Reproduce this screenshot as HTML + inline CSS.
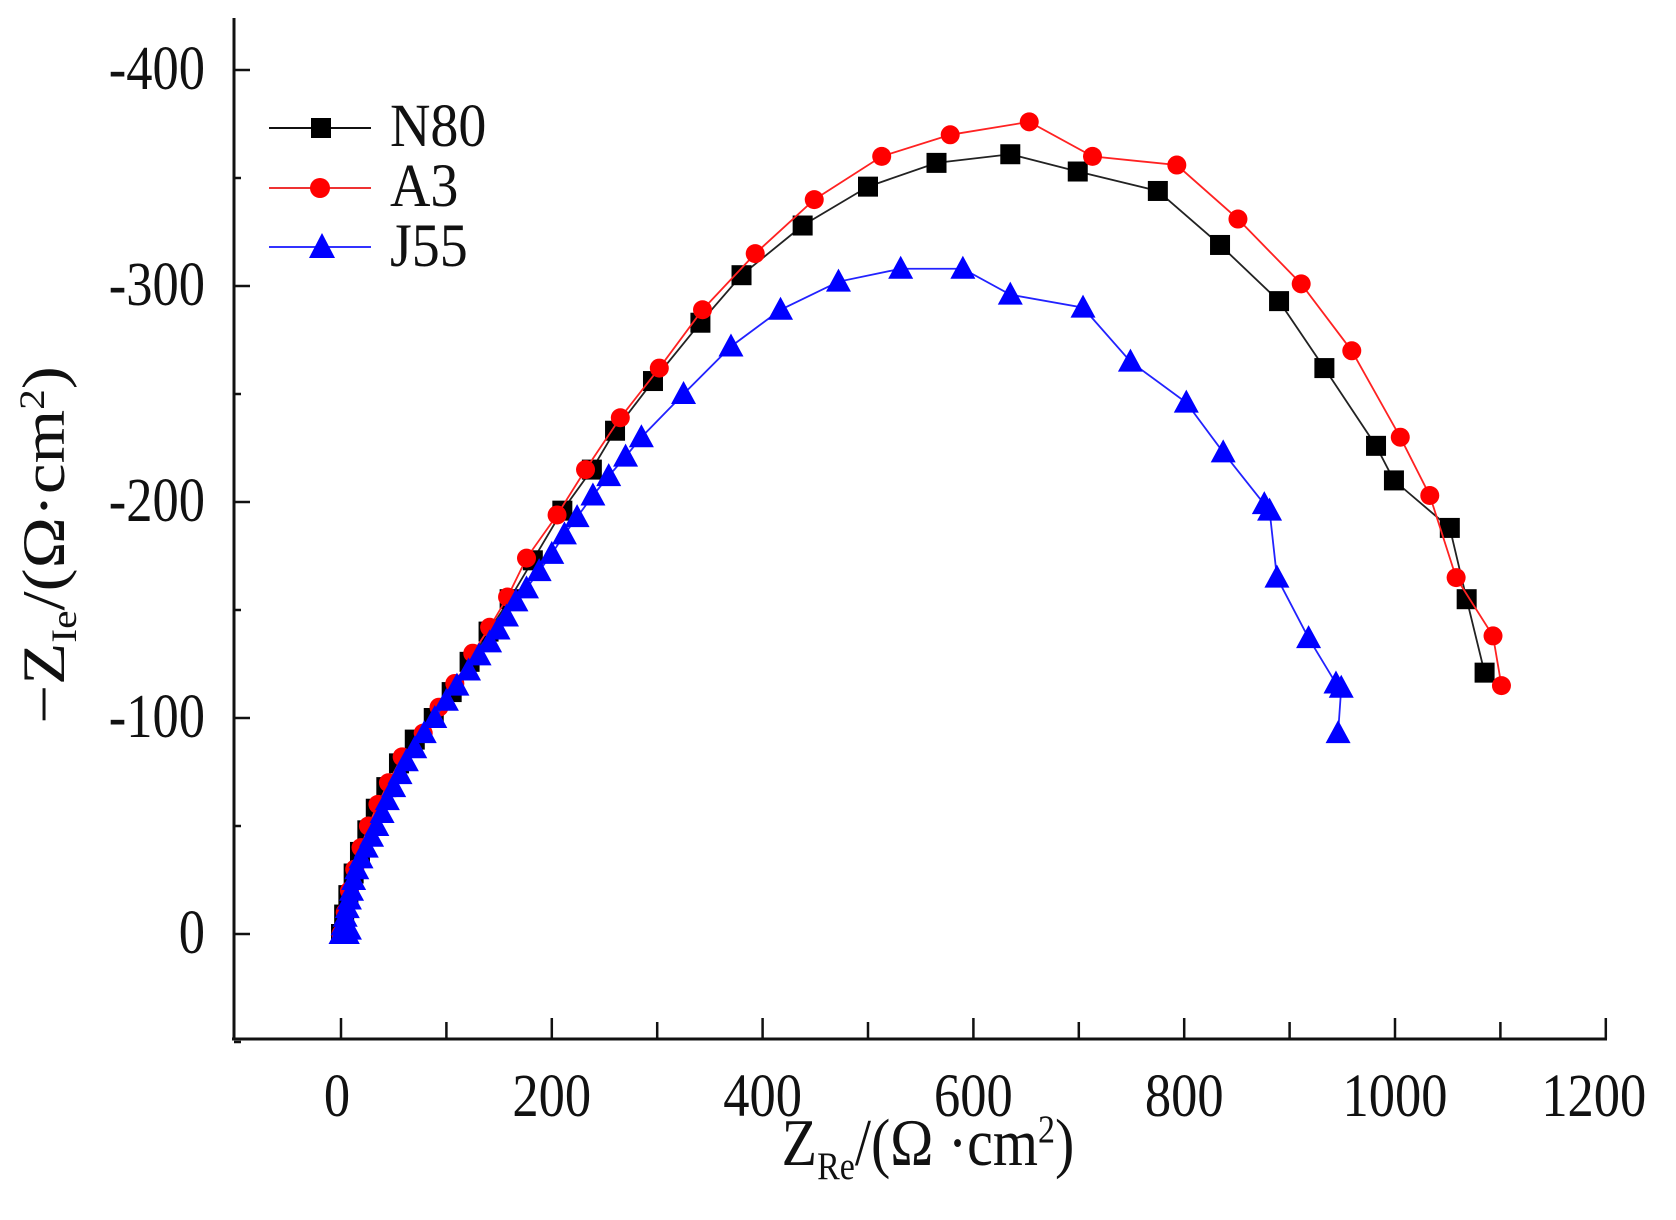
<!DOCTYPE html>
<html><head><meta charset="utf-8"><style>
html,body{margin:0;padding:0;background:#fff;}
svg{display:block;}
text{font-family:"Liberation Serif",serif;fill:#111;}
</style></head><body>
<svg id="s" width="1676" height="1220" viewBox="0 0 1676 1220" xmlns="http://www.w3.org/2000/svg">
<g stroke="#111" stroke-width="3" fill="none">
<line x1="234" y1="18" x2="234" y2="1040"/>
<line x1="232" y1="1039" x2="1607" y2="1039"/>
</g>
<g id="ticks" stroke="#111" stroke-width="2.5"></g>
<g id="labels" font-size="50"></g>
<g id="series"></g>
<g font-size="56">
<line x1="269" y1="128" x2="371" y2="128" stroke="#111" stroke-width="2"/>
<rect x="311" y="118" width="20" height="20" fill="#000"/>
<text transform="translate(390,146) scale(1,1.1)">N80</text>
<line x1="269" y1="188" x2="371" y2="188" stroke="#e33" stroke-width="2"/>
<circle cx="320" cy="188" r="10" fill="#f00"/>
<text transform="translate(390,206) scale(1,1.1)">A3</text>
<line x1="269" y1="247" x2="371" y2="247" stroke="#33f" stroke-width="2"/>
<polygon points="322,233 309,258 335,258" fill="#00f"/>
<text transform="translate(390,266) scale(1,1.1)">J55</text>
</g>
<text font-size="58" text-anchor="middle" transform="translate(928,1165) scale(1,1.15)">Z<tspan font-size="34" dy="12">Re</tspan><tspan dy="-12">/(Ω ·cm</tspan><tspan font-size="34" dy="-20">2</tspan><tspan dy="20">)</tspan></text>
<text font-size="60" text-anchor="middle" transform="translate(64,545) rotate(-90) scale(1.15,1)">−Z<tspan font-size="36" dy="12">Ie</tspan><tspan dy="-12">/(Ω·cm</tspan><tspan font-size="36" dy="-20">2</tspan><tspan dy="20">)</tspan></text>
</svg>
<script>
const NS="http://www.w3.org/2000/svg";
const X=v=>341+v*1.054, Y=v=>934-v*2.16;
function el(tag,attrs,parent){const e=document.createElementNS(NS,tag);for(const k in attrs)e.setAttribute(k,attrs[k]);parent.appendChild(e);return e;}
const tk=document.getElementById('ticks'), lb=document.getElementById('labels');
for(let v=0;v<=1200;v+=100){const x=X(v);el('line',{x1:x,y1:1039,x2:x,y2:v%200?1022:1018},tk);
 if(v%200===0){const t=el('text',{'text-anchor':'middle',transform:`translate(${x-(v===1200?12:v===0?4:0)},1116) scale(1.05,1.22)`},lb);t.textContent=v;}}
for(let v=-50;v<=400;v+=50){const y=Y(v);el('line',{x1:234,y1:y,x2:v%100?241:250,y2:y},tk);
 if(v%100===0&&v>=0){const t=el('text',{'text-anchor':'end',transform:`translate(205,${y+19}) scale(1.05,1.25)`},lb);t.textContent=v===0?'0':'-'+v;}}
const N80=[[0,0],[3,9],[7,18],[12,28],[18,38],[25,48],[33,58],[43,68],[55,79],[70,90],[88,100],[105,112],[122,126],[140,140],[160,155],[182,173],[210,196],[238,215],[260,233],[296,256],[341,283],[380,305],[438,328],[500,346],[565,357],[635,361],[699,353],[775,344],[834,319],[890,293],[933,262],[982,226],[999,210],[1052,188],[1068,155],[1085,121]];
const A3=[[0,0],[4,10],[8,20],[13,30],[19,40],[26,50],[35,60],[45,70],[58,82],[78,93],[93,105],[108,116],[125,130],[141,142],[158,156],[176,174],[205,194],[232,215],[265,239],[302,262],[343,289],[393,315],[449,340],[513,360],[578,370],[653,376],[713,360],[793,356],[851,331],[911,301],[959,270],[1005,230],[1033,203],[1058,165],[1093,138],[1101,115]];
const J55=[[0,0],[3,0],[6,0],[8,2],[2,4],[4,8],[6,12],[8,16],[10,20],[12,25],[15,30],[19,35],[24,40],[29,45],[34,50],[39,56],[44,62],[50,68],[56,74],[62,80],[70,86],[79,93],[89,100],[100,108],[110,115],[121,122],[131,129],[141,135],[149,141],[157,147],[166,154],[176,160],[188,168],[200,176],[212,185],[224,193],[239,203],[254,212],[270,221],[285,230],[325,250],[370,272],[417,289],[472,302],[531,308],[590,308],[635,296],[704,290],[749,265],[802,246],[837,223],[876,199],[881,196],[888,165],[918,137],[944,116],[949,114],[946,93]];
const g=document.getElementById('series');
function draw(data,color,mk){
 el('polyline',{points:data.map(p=>X(p[0])+','+Y(p[1])).join(' '),fill:'none',stroke:color,'stroke-width':1.8},g);
 for(const p of data){const x=X(p[0]),y=Y(p[1]);
  if(mk==='s')el('rect',{x:x-10,y:y-10,width:20,height:20,fill:'#000'},g);
  else if(mk==='c')el('circle',{cx:x,cy:y,r:9.5,fill:'#f00'},g);
  else el('polygon',{points:`${x},${y-13} ${x-12.5},${y+10} ${x+12.5},${y+10}`,fill:'#00f'},g);}
}
draw(N80,'#222','s');draw(A3,'#f22','c');draw(J55,'#22f','t');
</script>
</body></html>
